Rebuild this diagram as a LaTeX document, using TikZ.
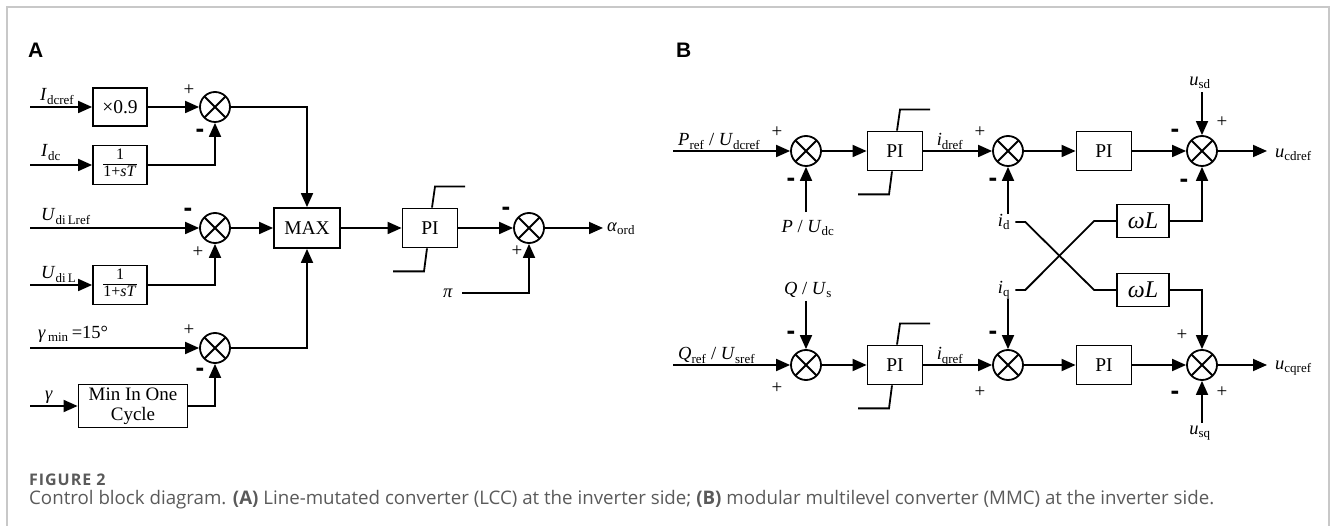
\documentclass[tikz,border=0pt]{standalone}
\usepackage{fontspec}
\setmainfont{Liberation Serif}
\newfontfamily\capfont{Open Sans}
\newfontfamily\capwide[LetterSpace=6]{Open Sans}
\newfontfamily\panelfont{Liberation Sans}
\usetikzlibrary{positioning,arrows.meta}
\definecolor{framegray}{HTML}{C8C8C8}
\definecolor{capgray}{HTML}{5A5A5A}
\newcommand{\vsub}[2]{\textit{#1}\textsubscript{#2}}
\newcommand{\lagfrac}{{\fontsize{16}{16}\selectfont\begin{tabular}{@{}c@{}}1\\[0pt]\hline\rule{0pt}{12pt}1+\textit{sT}\end{tabular}}}
\tikzset{
  blk/.style={draw,line width=1.8pt,align=center,inner sep=2pt,font=\fontsize{19.5}{21}\selectfont},
  wlbox/.style={blk,minimum width=52pt,minimum height=33pt,font=\fontsize{24}{24}\selectfont},
  pibox/.style={blk,minimum width=55pt,minimum height=39pt},
  sumjn/.style={circle,draw,line width=1.8pt,minimum size=30pt,inner sep=0pt,
    path picture={\draw[line width=1.8pt] (path picture bounding box.north west) -- (path picture bounding box.south east)
      (path picture bounding box.north east) -- (path picture bounding box.south west);}},
  wire/.style={line width=1.8pt},
  arr/.style={wire,-{Triangle[length=14pt,width=12pt]}},
  plussgn/.style={font=\fontsize{19}{19}\selectfont,inner sep=0pt},
  minussgn/.style={font=\panelfont\bfseries\fontsize{26}{26}\selectfont,inner sep=0pt},
  lbl/.style={font=\fontsize{18.5}{20}\selectfont,inner sep=0pt},
  panel/.style={font=\panelfont\bfseries\fontsize{21}{21}\selectfont,inner sep=0pt,anchor=north west},
  captext/.style={font=\capfont\fontsize{18.7}{20}\selectfont,text=capgray,inner sep=0pt,anchor=base west}
}
\begin{document}
\begin{tikzpicture}[x=1pt,y=-1pt]
  \useasboundingbox (0,0) rectangle (1331,526);
  \draw[line width=1.5pt,framegray] (7,526) -- (7,7) -- (1329,7) -- (1329,526);

  % panel A
  \node[panel] (labA) at (28,43) {A};
  \coordinate (inIdcref) at (30,107);
  \coordinate (inIdc) at (30,165);
  \coordinate (inUref) at (30,228);
  \coordinate (inU) at (30,285);
  \coordinate (inGmin) at (30,348);
  \coordinate (inG) at (30,406);
  \node[lbl,anchor=base west] (tIdcref) at (40,101) {\vsub{I}{dcref}};
  \node[lbl,anchor=base west] (tIdc) at (41,157) {\vsub{I}{dc}};
  \node[lbl,anchor=base west] (tUref) at (41,221) {\vsub{U}{di\,Lref}};
  \node[lbl,anchor=base west] (tU) at (41,279) {\vsub{U}{di\,L}};
  \node[lbl,anchor=base west] (tGmin) at (38,339) {\vsub{γ}{\,min}\,=15°};
  \node[lbl,anchor=base west] (tG) at (45,400) {\textit{γ}};
  \node[blk,minimum width=54pt,minimum height=38pt] (gain) at (120,107) {×0.9};
  \node[blk,minimum width=54pt,minimum height=39pt] (lagI) at (120,165) {\lagfrac};
  \node[blk,minimum width=54pt,minimum height=39pt] (lagU) at (120,285) {\lagfrac};
  \node[blk,minimum width=109pt,minimum height=43pt,font=\fontsize{19}{20}\selectfont] (mincyc) at (133,406) {Min In One\\Cycle};
  \node[sumjn] (sA1) at (215,107) {};
  \node[sumjn] (sA2) at (215,228) {};
  \node[sumjn] (sA3) at (215,348) {};
  \node[blk,minimum width=66pt,minimum height=40pt] (maxb) at (307,228) {MAX};
  \node[pibox] (piA) at (430,228) {PI};
  \node[sumjn] (sA4) at (529,228) {};
  \coordinate (outA) at (603,228);
  \node[lbl,anchor=west] (talpha) at (607,229) {\vsub{α}{ord}};
  \node[lbl] (tpi) at (448,293) {\textit{π}};

  \draw[arr] (inIdcref) -- (gain);
  \draw[arr] (gain) -- (sA1);
  \draw[arr] (inIdc) -- (lagI);
  \draw[arr] (lagI.east) -| (sA1.south);
  \draw[arr] (sA1.east) -| (maxb.north);
  \draw[arr] (inUref) -- (sA2);
  \draw[arr] (sA2) -- (maxb);
  \draw[arr] (inU) -- (lagU);
  \draw[arr] (lagU.east) -| (sA2.south);
  \draw[arr] (inGmin) -- (sA3);
  \draw[arr] (sA3.east) -| (maxb.south);
  \draw[arr] (inG) -- (mincyc);
  \draw[arr] (mincyc.east) -| (sA3.south);
  \draw[arr] (maxb) -- (piA);
  \draw[arr] (piA) -- (sA4);
  \draw[arr] (sA4) -- (outA);
  \draw[arr] ([xshift=9pt]tpi.east) -| (sA4.south);

  \node[plussgn] (pA1) at ([shift={(-26,-17)}]sA1) {+};
  \node[minussgn] (nA1) at ([shift={(-15,26)}]sA1) {-};
  \node[minussgn] (nA2) at ([shift={(-27,-16)}]sA2) {-};
  \node[plussgn] (pA2) at ([shift={(-17,24)}]sA2) {+};
  \node[plussgn] (pA3) at ([shift={(-26,-18)}]sA3) {+};
  \node[minussgn] (nA3) at ([shift={(-15,24)}]sA3) {-};
  \node[minussgn] (nA4) at ([shift={(-23,-17)}]sA4) {-};
  \node[plussgn] (pA4) at ([shift={(-12,23)}]sA4) {+};

  % panel B
  \node[panel] (labB) at (676,43) {B};
  \coordinate (inP) at (673,151);
  \coordinate (inQ) at (673,365);
  \node[lbl,anchor=base west] (tPref) at (678,146) {\vsub{P}{ref} / \vsub{U}{dcref}};
  \node[lbl,anchor=base west] (tQref) at (678,360) {\vsub{Q}{ref} / \vsub{U}{sref}};
  \node[sumjn] (sP1) at (806,151) {};
  \node[sumjn] (sQ1) at (806,365) {};
  \node[lbl] (tP) at (808,228) {\textit{P} / \vsub{U}{dc}};
  \node[lbl] (tQ) at (808,290) {\textit{Q} / \vsub{U}{s}};
  \node[pibox] (piP) at (895,151) {PI};
  \node[pibox] (piQ) at (895,365) {PI};
  \node[lbl,anchor=base] (tidref) at (950,146) {\vsub{i}{dref}};
  \node[lbl,anchor=base] (tiqref) at (950,360) {\vsub{i}{qref}};
  \node[sumjn] (sP2) at (1008,151) {};
  \node[sumjn] (sQ2) at (1008,365) {};
  \node[lbl] (tid) at (1004,222) {\vsub{i}{d}};
  \node[lbl] (tiq) at (1004,290) {\vsub{i}{q}};
  \node[pibox] (piPd) at (1104,151) {PI};
  \node[pibox] (piQd) at (1104,365) {PI};
  \node[wlbox] (wLd) at (1143,221) {\textit{ωL}};
  \node[wlbox] (wLq) at (1143,290) {\textit{ωL}};
  \node[sumjn] (sP3) at (1202,151) {};
  \node[sumjn] (sQ3) at (1202,365) {};
  \node[lbl] (tusd) at (1200,83) {\vsub{u}{sd}};
  \node[lbl] (tusq) at (1200,433) {\vsub{u}{sq}};
  \coordinate (outP) at (1267,151);
  \coordinate (outQ) at (1267,365);
  \node[lbl,anchor=west] (tucd) at (1275,155) {\vsub{u}{cdref}};
  \node[lbl,anchor=west] (tucq) at (1275,368) {\vsub{u}{cqref}};

  \draw[arr] (inP) -- (sP1);
  \draw[arr] ([yshift=8pt]tP.north -| sP1) -- (sP1);
  \draw[arr] (sP1) -- (piP);
  \draw[arr] (piP) -- (sP2);
  \draw[arr] (tid.north -| sP2) -- (sP2);
  \draw[arr] (sP2) -- (piPd);
  \draw[arr] (piPd) -- (sP3);
  \draw[arr] ([yshift=-3pt]tusd.south -| sP3) -- (sP3);
  \draw[arr] (wLd.east) -| (sP3.south);
  \draw[arr] (sP3) -- (outP);
  \draw[arr] (inQ) -- (sQ1);
  \draw[arr] ([yshift=-3pt]tQ.south -| sQ1) -- (sQ1);
  \draw[arr] (sQ1) -- (piQ);
  \draw[arr] (piQ) -- (sQ2);
  \draw[arr] (tiq.south -| sQ2) -- (sQ2);
  \draw[arr] (sQ2) -- (piQd);
  \draw[arr] (piQd) -- (sQ3);
  \draw[arr] ([yshift=3pt]tusq.north -| sQ3) -- (sQ3);
  \draw[arr] (wLq.east) -| (sQ3.north);
  \draw[arr] (sQ3) -- (outQ);
  \draw[wire] ([xshift=5pt]tid.east) -- ++(10,0) -- ([xshift=-22pt]wLq.west) -- (wLq.west);
  \draw[wire] ([xshift=5pt]tiq.east) -- ++(10,0) -- ([xshift=-22pt]wLd.west) -- (wLd.west);

  \node[plussgn] (pP1) at ([shift={(-29,-19)}]sP1) {+};
  \node[minussgn] (nP1) at ([shift={(-15,31)}]sP1) {-};
  \node[plussgn] (pP2) at ([shift={(-28,-19)}]sP2) {+};
  \node[minussgn] (nP2) at ([shift={(-15,31)}]sP2) {-};
  \node[minussgn] (nP3) at ([shift={(-27,-18)}]sP3) {-};
  \node[plussgn] (pP3) at ([shift={(20,-29)}]sP3) {+};
  \node[minussgn] (mP3) at ([shift={(-18,32)}]sP3) {-};
  \node[minussgn] (nQ1) at ([shift={(-15,-30)}]sQ1) {-};
  \node[plussgn] (pQ1) at ([shift={(-29,23)}]sQ1) {+};
  \node[minussgn] (nQ2) at ([shift={(-15,-30)}]sQ2) {-};
  \node[plussgn] (pQ2) at ([shift={(-28,27)}]sQ2) {+};
  \node[plussgn] (pQ3) at ([shift={(-20,-30)}]sQ3) {+};
  \node[minussgn] (nQ3) at ([shift={(-27,30)}]sQ3) {-};
  \node[plussgn] (qQ3) at ([shift={(20,27)}]sQ3) {+};

  % limiter marks
  \foreach \p in {piA,piP,piQ}{
    \draw[wire] ([xshift=2pt]\p.north) -- ++(3,-21) -- ++(30,0);
    \draw[wire] ([xshift=-3pt]\p.south) -- ++(-3,23) -- ++(-31,0);
  }

  % caption
  \node[captext,font=\capwide\bfseries\fontsize{16}{18}\selectfont] (figno) at (29,485) {FIGURE 2};
  \node[captext] (figcap) at (29,504) {Control block diagram. \textbf{(A)} Line-mutated converter (LCC) at the inverter side; \textbf{(B)} modular multilevel converter (MMC) at the inverter side.};
\end{tikzpicture}
\end{document}
